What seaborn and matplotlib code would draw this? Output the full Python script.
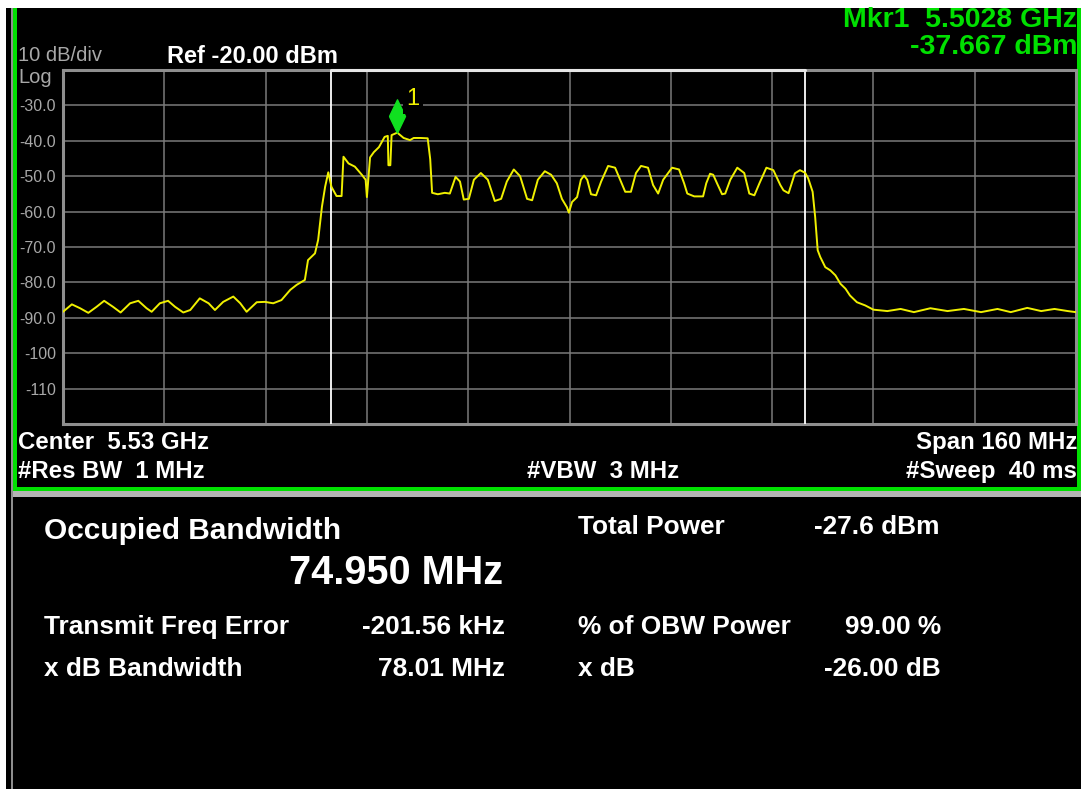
import numpy as np
import matplotlib
matplotlib.use("Agg")
import matplotlib.pyplot as plt
import matplotlib.transforms as mtransforms
from matplotlib.patches import Rectangle
import seaborn as sns
import pandas as pd

# ---------------- data ----------------
freq_mhz = [
    5450.0, 5451.4, 5452.7, 5454.0, 5455.3, 5456.5, 5457.9, 5459.1, 5460.6, 5461.9,
    5463.2, 5464.0, 5465.3, 5466.6, 5467.7, 5469.0, 5470.1, 5471.6, 5473.0, 5474.0,
    5475.3, 5476.9, 5478.0, 5479.0, 5480.6, 5481.9, 5483.2, 5484.5, 5485.9, 5486.9,
    5488.2, 5488.7, 5489.8, 5490.3, 5490.9, 5491.4, 5491.9, 5492.4, 5493.2, 5494.0,
    5494.3, 5495.1, 5496.1, 5497.2, 5497.8, 5498.0, 5498.5, 5499.1, 5499.9, 5500.8,
    5501.3, 5501.4, 5501.7, 5501.9, 5502.8, 5503.8, 5504.8, 5505.4, 5506.5, 5507.6,
    5508.0, 5508.3, 5509.2, 5510.3, 5511.1, 5512.0, 5512.7, 5513.3, 5514.1, 5514.9,
    5516.0, 5517.1, 5518.2, 5519.2, 5520.1, 5521.2, 5522.2, 5523.3, 5524.1, 5525.0,
    5526.1, 5527.1, 5528.0, 5528.8, 5529.6, 5529.9, 5530.4, 5531.2, 5531.8, 5532.3,
    5532.8, 5533.4, 5534.2, 5535.0, 5536.1, 5537.2, 5538.0, 5538.8, 5539.7, 5540.5,
    5541.3, 5542.4, 5543.2, 5544.0, 5544.8, 5546.2, 5547.3, 5548.1, 5548.6, 5549.7,
    5551.1, 5551.6, 5552.2, 5552.7, 5553.3, 5554.1, 5554.6, 5555.4, 5556.5, 5557.6,
    5558.4, 5559.2, 5560.0, 5561.1, 5562.2, 5563.3, 5563.8, 5564.6, 5565.6, 5566.4,
    5567.2, 5567.7, 5568.4, 5568.8, 5569.2, 5569.6, 5570.4, 5571.2, 5572.0, 5572.8,
    5573.6, 5574.3, 5575.4, 5576.7, 5578.0, 5580.2, 5582.3, 5584.4, 5587.0, 5589.7,
    5592.3, 5595.0, 5597.6, 5599.7, 5602.3, 5604.5, 5606.6, 5608.7, 5610.0,
]
level_dbm = [
    -88.3, -86.2, -87.3, -88.6, -86.9, -85.2, -86.9, -88.5, -85.9, -85.2,
    -87.3, -88.3, -85.9, -85.2, -86.9, -88.5, -87.8, -84.5, -85.9, -87.8,
    -85.5, -84.0, -85.9, -88.3, -85.6, -85.5, -85.9, -85.0, -82.1, -80.7,
    -79.3, -73.7, -71.8, -68.0, -58.6, -53.0, -48.9, -53.0, -55.6, -55.6,
    -44.5, -46.4, -47.3, -49.6, -51.0, -55.9, -44.7, -43.2, -41.8, -38.9,
    -38.6, -46.9, -46.9, -38.4, -37.7, -39.2, -39.8, -39.2, -39.2, -39.3,
    -45.2, -54.7, -55.1, -54.7, -54.9, -50.2, -51.5, -56.6, -56.4, -51.0,
    -49.1, -51.0, -57.0, -56.4, -51.5, -48.1, -50.0, -56.4, -56.8, -51.0,
    -48.6, -49.6, -52.0, -56.4, -58.8, -60.3, -57.3, -55.9, -51.0, -49.8,
    -51.0, -55.1, -55.4, -51.5, -47.1, -47.6, -51.0, -54.4, -54.4, -49.1,
    -47.1, -47.6, -52.5, -54.9, -51.0, -47.6, -48.1, -52.0, -54.9, -55.7,
    -55.7, -52.0, -49.3, -49.6, -52.0, -55.1, -54.9, -51.0, -47.6, -49.1,
    -54.9, -55.4, -52.0, -47.6, -48.3, -52.5, -54.0, -54.8, -49.2, -48.3,
    -49.0, -50.6, -54.4, -61.5, -70.9, -72.8, -75.7, -76.6, -78.0, -80.4,
    -81.8, -83.7, -85.6, -86.5, -87.7, -88.1, -87.5, -88.4, -87.3, -88.1,
    -87.5, -88.4, -87.5, -88.4, -87.2, -88.1, -87.5, -88.1, -88.4,
]

center_ghz = 5.53
span_mhz = 160.0
ref_dbm = -20.0
db_per_div = 10.0
n_div = 10
mkr_freq_mhz = 5502.8
mkr_level_dbm = -37.667
obw_mhz = 74.950
freq_err_khz = -201.56
xdb_bw_mhz = 78.01
total_power_dbm = -27.6
obw_power_pct = 99.00
xdb_db = -26.00
res_bw_mhz = 1
vbw_mhz = 3
sweep_ms = 40

# ---------------- style ----------------
sns.set_theme(style="dark", rc={"axes.facecolor": "black", "figure.facecolor": "black"})
plt.rcParams["font.family"] = ["Liberation Sans", "DejaVu Sans"]

W, H = 1081, 789
fig = plt.figure(figsize=(W / 100, H / 100), dpi=100, facecolor="black")

GREEN = "#00e000"
YELLOW = "#f0f000"
GRID = "#7a7a7a"
FRAME = "#8e8e8e"
LABEL_GRAY = "#a8a8a8"

# overlay in pixel coordinates for the instrument frame and texts
ov = fig.add_axes([0, 0, 1, 1])
ov.set_xlim(0, W)
ov.set_ylim(H, 0)
ov.axis("off")
ov.set_zorder(0)

ov.add_patch(Rectangle((0, 0), W, 8, color="white", lw=0))
ov.add_patch(Rectangle((0, 0), 6, H, color="white", lw=0))
ov.add_patch(Rectangle((11, 8), 2, H - 8, color=FRAME, lw=0))
ov.add_patch(Rectangle((13, 8), 4, 483, color=GREEN, lw=0))
ov.add_patch(Rectangle((1077, 8), 4, 483, color=GREEN, lw=0))
ov.add_patch(Rectangle((13, 487), W - 13, 4, color=GREEN, lw=0))
ov.add_patch(Rectangle((13, 491), W - 13, 6, color="#b4b4b4", lw=0))

# header texts
ov.text(18, 55, f"{db_per_div:.0f} dB/div", color=LABEL_GRAY, fontsize=14.5, ha="left", va="center")
ov.text(18, 77, "Log", color=LABEL_GRAY, fontsize=14.5, ha="left", va="center")
ov.text(167, 56, f"Ref {ref_dbm:.2f} dBm", color="white", fontsize=17, fontweight="bold",
        ha="left", va="center")
ov.text(1077, 20, f"Mkr1  {mkr_freq_mhz / 1000:.4f} GHz", color=GREEN, fontsize=20.5,
        fontweight="bold", ha="right", va="center")
ov.text(1077, 47, f"{mkr_level_dbm:.3f} dBm", color=GREEN, fontsize=20.5,
        fontweight="bold", ha="right", va="center")

# footer texts of the trace window
FS_FOOT = 17.3
ov.text(18, 442, f"Center  {center_ghz:.2f} GHz", color="white", fontsize=FS_FOOT,
        fontweight="bold", ha="left", va="center")
ov.text(1077, 442, f"Span {span_mhz:.0f} MHz", color="white", fontsize=FS_FOOT,
        fontweight="bold", ha="right", va="center")
ov.text(18, 471, f"#Res BW  {res_bw_mhz} MHz", color="white", fontsize=FS_FOOT,
        fontweight="bold", ha="left", va="center")
ov.text(603, 471, f"#VBW  {vbw_mhz} MHz", color="white", fontsize=FS_FOOT,
        fontweight="bold", ha="center", va="center")
ov.text(1077, 471, f"#Sweep  {sweep_ms} ms", color="white", fontsize=FS_FOOT,
        fontweight="bold", ha="right", va="center")

# measurement panel
FS_ROW = 18.9
ov.text(44, 531, "Occupied Bandwidth", color="white", fontsize=21.5, fontweight="bold",
        ha="left", va="center")
ov.text(503, 573, f"{obw_mhz:.3f} MHz", color="white", fontsize=28.5, fontweight="bold",
        ha="right", va="center")
ov.text(44, 627, "Transmit Freq Error", color="white", fontsize=FS_ROW, fontweight="bold",
        ha="left", va="center")
ov.text(505, 627, f"{freq_err_khz:.2f} kHz", color="white", fontsize=FS_ROW, fontweight="bold",
        ha="right", va="center")
ov.text(44, 669, "x dB Bandwidth", color="white", fontsize=FS_ROW, fontweight="bold",
        ha="left", va="center")
ov.text(505, 669, f"{xdb_bw_mhz:.2f} MHz", color="white", fontsize=FS_ROW, fontweight="bold",
        ha="right", va="center")
ov.text(578, 527, "Total Power", color="white", fontsize=FS_ROW, fontweight="bold",
        ha="left", va="center")
ov.text(940, 527, f"{total_power_dbm:.1f} dBm", color="white", fontsize=FS_ROW, fontweight="bold",
        ha="right", va="center")
ov.text(578, 627, "% of OBW Power", color="white", fontsize=FS_ROW, fontweight="bold",
        ha="left", va="center")
ov.text(941, 627, f"{obw_power_pct:.2f} %", color="white", fontsize=FS_ROW, fontweight="bold",
        ha="right", va="center")
ov.text(578, 669, "x dB", color="white", fontsize=FS_ROW, fontweight="bold",
        ha="left", va="center")
ov.text(941, 669, f"{xdb_db:.2f} dB", color="white", fontsize=FS_ROW, fontweight="bold",
        ha="right", va="center")

# ---------------- trace window ----------------
ax = fig.add_axes([63 / W, 1 - 424 / H, (1076 - 63) / W, (424 - 70) / H])
ax.set_zorder(2)
ax.set_facecolor("black")

fmin = center_ghz * 1000 - span_mhz / 2
fmax = center_ghz * 1000 + span_mhz / 2
ybot = ref_dbm - n_div * db_per_div

df = pd.DataFrame({"freq": freq_mhz, "level": level_dbm})
sns.lineplot(data=df, x="freq", y="level", ax=ax, color=YELLOW, lw=1.4,
             estimator=None, sort=False, zorder=4)

ax.set_xlim(fmin, fmax)
ax.set_ylim(ybot, ref_dbm)
xt = np.linspace(fmin, fmax, n_div + 1)
yt = np.linspace(ybot, ref_dbm, n_div + 1)
ax.set_xticks(xt)
ax.set_yticks(yt)
ylabels = []
for v in yt:
    if np.isclose(v, ref_dbm) or np.isclose(v, ybot):
        ylabels.append("")
    elif v > -100:
        ylabels.append(f"{v:.1f}")
    else:
        ylabels.append(f"{v:.0f}")
ax.set_yticklabels(ylabels)
ax.set_xticklabels([])
ax.set_xlabel("")
ax.set_ylabel("")
ax.grid(True, color=GRID, lw=1.1)
ax.set_axisbelow(True)
ax.tick_params(axis="both", length=0)
ax.tick_params(axis="y", labelcolor=LABEL_GRAY, labelsize=11.5, pad=5)
for s in ax.spines.values():
    s.set_color(FRAME)
    s.set_linewidth(2.2)
    s.set_visible(True)

# OBW edge lines
center_meas = center_ghz * 1000 + freq_err_khz / 1000
obw_left = center_meas - obw_mhz / 2
obw_right = center_meas + obw_mhz / 2
for xv in (obw_left, obw_right):
    ax.axvline(xv, color="white", lw=1.3, zorder=3)
ax.plot([obw_left, obw_right], [ref_dbm, ref_dbm], color="#e6e6e6", lw=2.2,
        clip_on=False, zorder=6)

# marker diamond sitting on the trace
diamond = [(-0.48, 0), (0, 1), (0.48, 0), (0, -1), (-0.48, 0)]
trans = mtransforms.offset_copy(ax.transData, fig=fig, y=11.9, units="points")
ax.plot([mkr_freq_mhz], [mkr_level_dbm], marker=diamond, ms=24, color="#10e020",
        mec="#10e020", ls="none", transform=trans, clip_on=False, zorder=7)
ax.annotate("1", xy=(mkr_freq_mhz, mkr_level_dbm), xytext=(11.5, 24),
            textcoords="offset points", color=YELLOW, fontsize=17,
            ha="center", va="center", zorder=7,
            bbox=dict(boxstyle="square,pad=0.15", fc="black", ec="none"))

fig.savefig("out.png", dpi=100, facecolor="black")
